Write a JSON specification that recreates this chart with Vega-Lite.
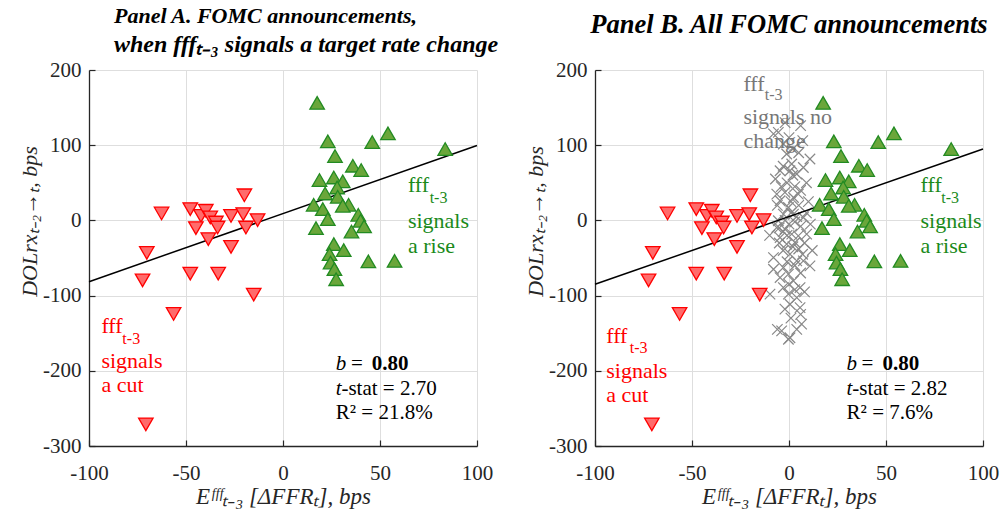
{
  "$schema": "https://vega.github.io/schema/vega-lite/v6.json",
  "padding": {"left": 18, "top": 5, "right": 5, "bottom": 5},
  "background": "white",
  "spacing": 118,
  "bounds": "flush",
  "datasets": {
    "red": [
      {"x": -62.6, "y": 9.2}, {"x": -70.2, "y": -43.1}, {"x": -19.9, "y": 33.4}, {"x": -47.8, "y": 15.0},
      {"x": -42.3, "y": 6.1}, {"x": -39.8, "y": 12.8}, {"x": -37.5, "y": 3.9}, {"x": -34.6, "y": -2.8},
      {"x": -33.7, "y": -9.5}, {"x": -44.9, "y": -10.3}, {"x": -26.8, "y": 5.9}, {"x": -20.5, "y": 8.4},
      {"x": -19.1, "y": -9.5}, {"x": -13.1, "y": 0.4}, {"x": -38.5, "y": -24.9}, {"x": -26.8, "y": -35.2},
      {"x": -72.4, "y": -79.8}, {"x": -47.8, "y": -70.7}, {"x": -33.4, "y": -70.7}, {"x": -15.1, "y": -98.7},
      {"x": -56.4, "y": -124.4}, {"x": -70.7, "y": -271.2}
    ],
    "green": [
      {"x": 17.6, "y": 156.3}, {"x": 23.1, "y": 105.1}, {"x": 46.0, "y": 104.0}, {"x": 26.8, "y": 85.6},
      {"x": 36.0, "y": 72.7}, {"x": 40.3, "y": 67.0}, {"x": 18.8, "y": 53.7}, {"x": 26.2, "y": 57.1},
      {"x": 30.8, "y": 51.8}, {"x": 27.9, "y": 43.8}, {"x": 21.7, "y": 35.8}, {"x": 28.2, "y": 31.4},
      {"x": 15.8, "y": 20.8}, {"x": 20.5, "y": 15.0}, {"x": 33.8, "y": 20.8}, {"x": 30.8, "y": 19.4},
      {"x": 38.8, "y": 7.5}, {"x": 23.1, "y": 1.7}, {"x": 17.0, "y": -10.3}, {"x": 40.0, "y": -0.5},
      {"x": 41.8, "y": -7.9}, {"x": 35.3, "y": -14.8}, {"x": 26.2, "y": -31.6}, {"x": 31.3, "y": -39.5},
      {"x": 24.0, "y": -44.9}, {"x": 24.5, "y": -56.1}, {"x": 26.5, "y": -64.8}, {"x": 44.0, "y": -54.5},
      {"x": 27.4, "y": -78.2}, {"x": 54.1, "y": 115.7}, {"x": 83.6, "y": 94.9}, {"x": 57.5, "y": -53.8}
    ],
    "gray": [
      {"x": -5.5, "y": 117}, {"x": 6.0, "y": 126}, {"x": 7.1, "y": 106}, {"x": -2.9, "y": 101.6},
      {"x": -1.2, "y": 88.3}, {"x": 10.8, "y": 81.6}, {"x": -4.6, "y": 66}, {"x": 0.5, "y": 66},
      {"x": 4.0, "y": 61.7}, {"x": 7.4, "y": 70.4}, {"x": 1.4, "y": 75}, {"x": -6.3, "y": 35},
      {"x": -2.1, "y": 37.2}, {"x": 2.3, "y": 30.5}, {"x": 4.8, "y": 35}, {"x": -4.6, "y": 26.1},
      {"x": -0.3, "y": 17.2}, {"x": -2.9, "y": 8.4}, {"x": 2.3, "y": 8.4}, {"x": 7.4, "y": 3.9},
      {"x": -5.5, "y": -0.5}, {"x": -6.3, "y": -9.5}, {"x": -2.1, "y": -11.6}, {"x": 1.4, "y": -18.2},
      {"x": -4.6, "y": -22.8}, {"x": 4.8, "y": -20.5}, {"x": -1.2, "y": -31.6}, {"x": -8.0, "y": -49.4},
      {"x": 3.1, "y": -29.4}, {"x": 9.1, "y": -18.2}, {"x": 0.5, "y": -44.9}, {"x": 7.4, "y": -53.8},
      {"x": 10.8, "y": -60.5}, {"x": 4.0, "y": -53.8}, {"x": -2.9, "y": -62.7}, {"x": -4.6, "y": -76},
      {"x": -0.3, "y": -71.5}, {"x": 2.3, "y": -80.4}, {"x": 5.7, "y": -89.3}, {"x": -2.9, "y": -89.3},
      {"x": -9.8, "y": -98.1}, {"x": -0.3, "y": -98.1}, {"x": 4.0, "y": -102.7}, {"x": 0.5, "y": -111.5},
      {"x": 5.7, "y": -116}, {"x": -2.1, "y": -118}, {"x": -3.8, "y": -147}, {"x": 0.5, "y": -156},
      {"x": 6.5, "y": -138}, {"x": 4.0, "y": -145}, {"x": -0.3, "y": -158}, {"x": -8.0, "y": 115},
      {"x": -1, "y": 50}, {"x": 3, "y": 45}, {"x": 6, "y": 40}, {"x": -4, "y": 45}, {"x": 1, "y": 25},
      {"x": 5, "y": 20}, {"x": -2, "y": 0}, {"x": 0, "y": -5}, {"x": 3, "y": -2}, {"x": 6, "y": -8},
      {"x": -1, "y": -20}, {"x": 2, "y": -35}, {"x": 5, "y": -38}, {"x": -3, "y": -40}, {"x": 8, "y": -30},
      {"x": 9, "y": 50}, {"x": -6, "y": 20}, {"x": 2, "y": 95}, {"x": -3, "y": 72}, {"x": 5, "y": 90},
      {"x": 0, "y": 110}, {"x": 10, "y": 25}, {"x": -7, "y": 55}, {"x": 3, "y": -60}, {"x": -1, "y": -55},
      {"x": 6, "y": -70}, {"x": -5, "y": -30}, {"x": 1, "y": 10}, {"x": 4, "y": 5}, {"x": -3, "y": -15},
      {"x": 7, "y": -45}, {"x": 0, "y": -85}, {"x": 3, "y": -92}, {"x": -5, "y": -10}, {"x": 12, "y": -40},
      {"x": 9, "y": 10}, {"x": -8, "y": -65}, {"x": 11, "y": -5}, {"x": 2, "y": 60}, {"x": -2, "y": 130},
      {"x": 6, "y": -125}, {"x": -6, "y": -145}, {"x": 1, "y": -130}, {"x": 8, "y": -95}, {"x": -10, "y": -20}
    ]
  },
  "config": {
    "view": {"stroke": null},
    "font": "Liberation Serif",
    "axis": {
      "labelFont": "Liberation Serif", "labelFontSize": 21, "labelColor": "#262626",
      "titleFont": "Liberation Serif", "titleFontSize": 22, "titleFontWeight": "normal",
      "titleFontStyle": "italic", "titleColor": "#262626",
      "gridColor": "#dedede", "gridWidth": 1,
      "domainColor": "#262626", "domainWidth": 1.3,
      "tickColor": "#262626", "tickSize": -6, "tickWidth": 1.2,
      "labelFlush": false
    },
    "axisX": {"labelPadding": 22, "titleFontSize": 23},
    "axisY": {"labelPadding": 14},
    "title": {"font": "Liberation Serif", "fontStyle": "italic", "fontWeight": "bold", "color": "black", "frame": "group",
              "subtitleFont": "Liberation Serif", "subtitleFontStyle": "italic", "subtitleFontWeight": "bold", "subtitleColor": "black"}
  },
  "hconcat": [
    {
      "width": 388, "height": 376,
      "title": {"text": "Panel A. FOMC announcements,", "subtitle": "when fffₜ₋₃ signals a target rate change", "anchor": "start", "dx": 25, "fontSize": 22, "subtitleFontSize": 24, "subtitlePadding": 5, "offset": 1},
      "encoding": {
        "x": {"field": "x", "type": "quantitative", "scale": {"domain": [-100, 100], "nice": false},
              "axis": {"values": [-100, -50, 0, 50, 100], "title": "Eᶠᶠᶠₜ₋₃ [ΔFFRₜ], bps", "labelExpr": "replace(datum.label, '−', '-')", "titleBaseline": "middle", "titleY": 50}},
        "y": {"field": "y", "type": "quantitative", "scale": {"domain": [-300, 200], "nice": false},
              "axis": {"values": [-300, -200, -100, 0, 100, 200], "title": "DOLrxₜ₋₂→ₜ, bps", "labelExpr": "replace(datum.label, '−', '-')", "titleBaseline": "middle", "titleX": -60, "titleY": 151}}
      },
      "layer": [
        {"data": {"values": [{"x": -100, "y": -81.5}, {"x": 100, "y": 99.5}]}, "mark": {"type": "line", "color": "black", "strokeWidth": 1.5}},
        {"data": {"name": "red"}, "mark": {"type": "point", "shape": "triangle-down", "filled": true, "fill": "#ff6b6b", "stroke": "#ff0000", "strokeWidth": 1.3, "size": 210, "opacity": 1}},
        {"data": {"name": "green"}, "mark": {"type": "point", "shape": "triangle-up", "filled": true, "fill": "#6aa63a", "stroke": "#228b22", "strokeWidth": 1.3, "size": 210, "opacity": 1}},
        {"data": {"values": [
          {"x": -93.6, "y": -149.7, "t": "fff", "c": "#ff0000"},
          {"x": -93.6, "y": -196.3, "t": "signals", "c": "#ff0000"},
          {"x": -93.6, "y": -228.2, "t": "a cut", "c": "#ff0000"},
          {"x": 64.4, "y": 37.2, "t": "fff", "c": "#1a8a1a"},
          {"x": 64.4, "y": -9.9, "t": "signals", "c": "#1a8a1a"},
          {"x": 64.4, "y": -43.1, "t": "a rise", "c": "#1a8a1a"}
        ]}, "mark": {"type": "text", "align": "left", "baseline": "alphabetic", "fontSize": 22, "font": "Liberation Serif"},
         "encoding": {"text": {"field": "t"}, "color": {"field": "c", "type": "nominal", "scale": null}}},
        {"data": {"values": [
          {"x": -82.8, "y": -164.3, "t": "t-3", "c": "#ff0000"},
          {"x": 75.6, "y": 23.8, "t": "t-3", "c": "#1a8a1a"}
        ]}, "mark": {"type": "text", "align": "left", "baseline": "alphabetic", "fontSize": 16, "font": "Liberation Serif"},
         "encoding": {"text": {"field": "t"}, "color": {"field": "c", "type": "nominal", "scale": null}}},
        {"data": {"values": [{"x": 27.2, "y": -198.9, "t": "b"}, {"x": 27.2, "y": -232.2, "t": "t"}]},
         "mark": {"type": "text", "align": "left", "baseline": "alphabetic", "fontSize": 21, "fontStyle": "italic", "color": "black", "font": "Liberation Serif"},
         "encoding": {"text": {"field": "t"}}},
        {"data": {"values": [{"x": 35.0, "y": -198.9, "t": "="}, {"x": 30.1, "y": -232.2, "t": "-stat = 2.70"}, {"x": 27.2, "y": -264.2, "t": "R² = 21.8%"}]},
         "mark": {"type": "text", "align": "left", "baseline": "alphabetic", "fontSize": 21, "color": "black", "font": "Liberation Serif"},
         "encoding": {"text": {"field": "t"}}},
        {"data": {"values": [{"x": 45.8, "y": -198.9, "t": "0.80"}]},
         "mark": {"type": "text", "align": "left", "baseline": "alphabetic", "fontSize": 21, "fontWeight": "bold", "color": "black", "font": "Liberation Serif"},
         "encoding": {"text": {"field": "t"}}}
      ]
    },
    {
      "width": 388, "height": 376,
      "title": {"text": "Panel B. All FOMC announcements", "anchor": "middle", "fontSize": 26.5, "offset": 21},
      "encoding": {
        "x": {"field": "x", "type": "quantitative", "scale": {"domain": [-100, 100], "nice": false},
              "axis": {"values": [-100, -50, 0, 50, 100], "title": "Eᶠᶠᶠₜ₋₃ [ΔFFRₜ], bps", "labelExpr": "replace(datum.label, '−', '-')", "titleBaseline": "middle", "titleY": 50}},
        "y": {"field": "y", "type": "quantitative", "scale": {"domain": [-300, 200], "nice": false},
              "axis": {"values": [-300, -200, -100, 0, 100, 200], "title": "DOLrxₜ₋₂→ₜ, bps", "labelExpr": "replace(datum.label, '−', '-')", "titleBaseline": "middle", "titleX": -60, "titleY": 151}}
      },
      "layer": [
        {"data": {"name": "gray"}, "mark": {"type": "point", "shape": "M-1,-1L1,1M-1,1L1,-1", "filled": false, "color": "#888888", "strokeWidth": 1.2, "size": 110, "opacity": 1}},
        {"data": {"values": [{"x": -100, "y": -85}, {"x": 100, "y": 95}]}, "mark": {"type": "line", "color": "black", "strokeWidth": 1.5}},
        {"data": {"name": "red"}, "mark": {"type": "point", "shape": "triangle-down", "filled": true, "fill": "#ff6b6b", "stroke": "#ff0000", "strokeWidth": 1.3, "size": 210, "opacity": 1}},
        {"data": {"name": "green"}, "mark": {"type": "point", "shape": "triangle-up", "filled": true, "fill": "#6aa63a", "stroke": "#228b22", "strokeWidth": 1.3, "size": 210, "opacity": 1}},
        {"data": {"values": [
          {"x": -94.2, "y": -163, "t": "fff", "c": "#ff0000"},
          {"x": -94.2, "y": -209.5, "t": "signals", "c": "#ff0000"},
          {"x": -94.2, "y": -241.5, "t": "a cut", "c": "#ff0000"},
          {"x": 67.8, "y": 37.2, "t": "fff", "c": "#1a8a1a"},
          {"x": 67.8, "y": -9.9, "t": "signals", "c": "#1a8a1a"},
          {"x": 67.8, "y": -43.1, "t": "a rise", "c": "#1a8a1a"},
          {"x": -23.5, "y": 172.6, "t": "fff", "c": "#777777"},
          {"x": -23.5, "y": 128, "t": "signals no", "c": "#777777"},
          {"x": -23.5, "y": 96, "t": "change", "c": "#777777"}
        ]}, "mark": {"type": "text", "align": "left", "baseline": "alphabetic", "fontSize": 22, "font": "Liberation Serif"},
         "encoding": {"text": {"field": "t"}, "color": {"field": "c", "type": "nominal", "scale": null}}},
        {"data": {"values": [
          {"x": -82.1, "y": -176, "t": "t-3", "c": "#ff0000"},
          {"x": 78.5, "y": 23.8, "t": "t-3", "c": "#1a8a1a"},
          {"x": -12.5, "y": 160.6, "t": "t-3", "c": "#777777"}
        ]}, "mark": {"type": "text", "align": "left", "baseline": "alphabetic", "fontSize": 16, "font": "Liberation Serif"},
         "encoding": {"text": {"field": "t"}, "color": {"field": "c", "type": "nominal", "scale": null}}},
        {"data": {"values": [{"x": 29.7, "y": -198.9, "t": "b"}, {"x": 29.7, "y": -232.2, "t": "t"}]},
         "mark": {"type": "text", "align": "left", "baseline": "alphabetic", "fontSize": 21, "fontStyle": "italic", "color": "black", "font": "Liberation Serif"},
         "encoding": {"text": {"field": "t"}}},
        {"data": {"values": [{"x": 37.4, "y": -198.9, "t": "="}, {"x": 32.6, "y": -232.2, "t": "-stat = 2.82"}, {"x": 29.7, "y": -264.2, "t": "R² = 7.6%"}]},
         "mark": {"type": "text", "align": "left", "baseline": "alphabetic", "fontSize": 21, "color": "black", "font": "Liberation Serif"},
         "encoding": {"text": {"field": "t"}}},
        {"data": {"values": [{"x": 48.2, "y": -198.9, "t": "0.80"}]},
         "mark": {"type": "text", "align": "left", "baseline": "alphabetic", "fontSize": 21, "fontWeight": "bold", "color": "black", "font": "Liberation Serif"},
         "encoding": {"text": {"field": "t"}}}
      ]
    }
  ]
}
